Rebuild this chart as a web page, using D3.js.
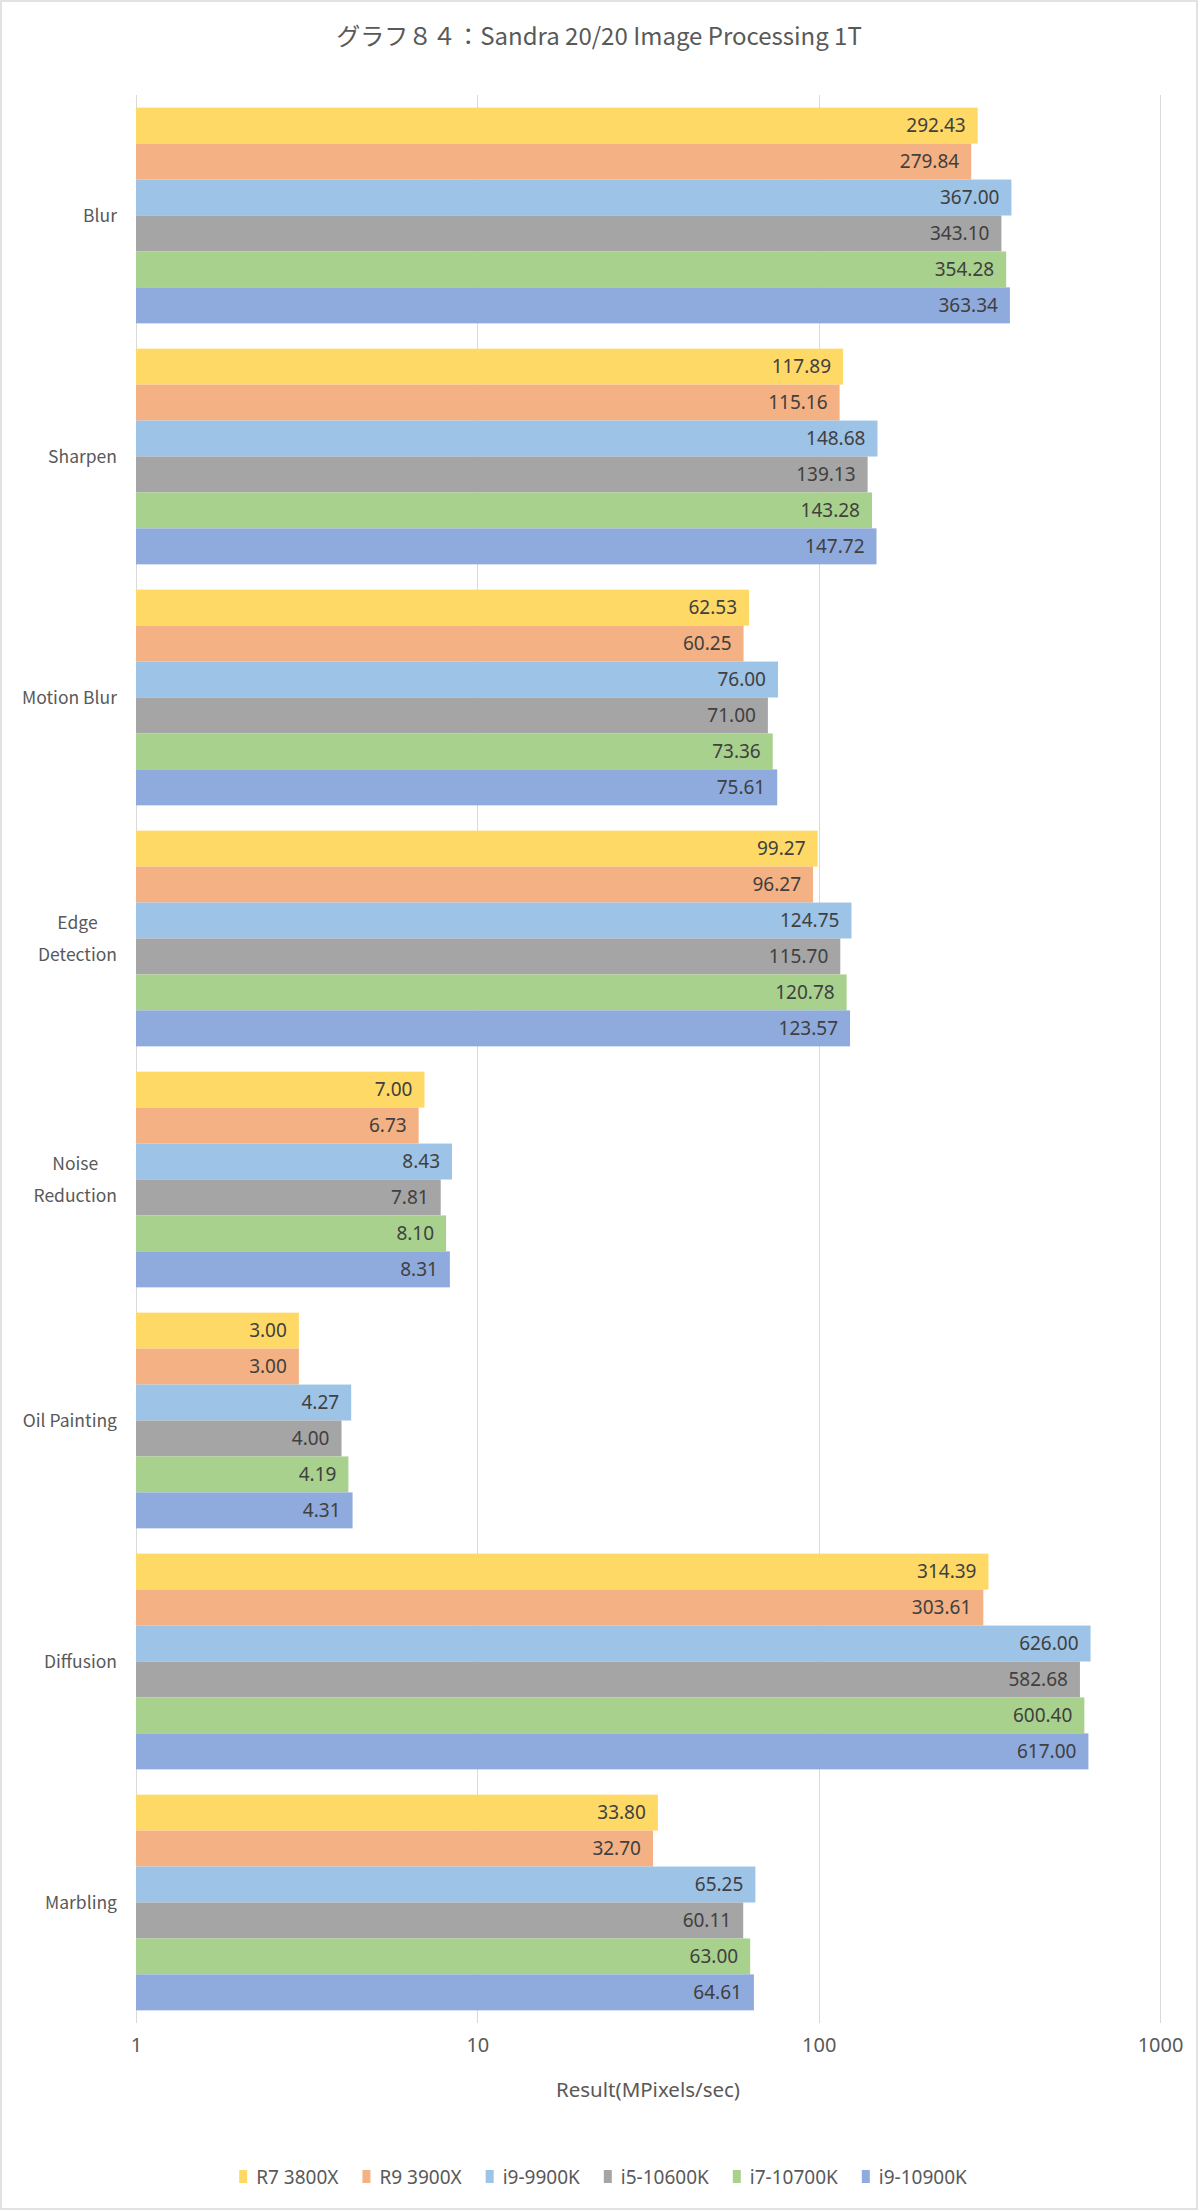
<!DOCTYPE html>
<html><head><meta charset="utf-8">
<script src="https://cdn.jsdelivr.net/npm/d3@7"></script>
<style>body{margin:0;background:#fff}svg{display:block}</style>
</head><body>
<svg id="c" width="1200" height="2211"></svg>
<script>
const title = "グラフ８４：Sandra 20/20 Image Processing 1T";
const categories = ["Blur","Sharpen","Motion Blur","Edge\nDetection","Noise\nReduction","Oil Painting","Diffusion","Marbling"];
const seriesNames = ["R7 3800X","R9 3900X","i9-9900K","i5-10600K","i7-10700K","i9-10900K"];
const r7_3800x  = [292.43,117.89,62.53,99.27,7.00,3.00,314.39,33.80];
const r9_3900x  = [279.84,115.16,60.25,96.27,6.73,3.00,303.61,32.70];
const i9_9900k  = [367.00,148.68,76.00,124.75,8.43,4.27,626.00,65.25];
const i5_10600k = [343.10,139.13,71.00,115.70,7.81,4.00,582.68,60.11];
const i7_10700k = [354.28,143.28,73.36,120.78,8.10,4.19,600.40,63.00];
const i9_10900k = [363.34,147.72,75.61,123.57,8.31,4.31,617.00,64.61];
const tickValues = [1,10,100,1000];
const axisTitle = "Result(MPixels/sec)";
const colors = ["#FFD966","#F4B183","#9DC3E6","#A5A5A5","#A9D18E","#8FAADC"];

const seriesData = [r7_3800x,r9_3900x,i9_9900k,i5_10600k,i7_10700k,i9_10900k];
const FONT = "'Noto Sans CJK JP','Noto Sans',sans-serif";
const FONT2 = "'Noto Sans','Noto Sans CJK JP',sans-serif";
const svg = d3.select("#c");

svg.append("rect").attr("x",1).attr("y",1).attr("width",1196).attr("height",2208)
  .attr("fill","#fff").attr("stroke","#D9D9D9").attr("stroke-width",1.5);

svg.append("text").attr("x",599).attr("y",45).attr("text-anchor","middle")
  .attr("font-family",FONT).attr("font-size",24).attr("fill","#595959").text(title);

const x = d3.scaleLog().domain([1,1000]).range([136,1160]);
const y = d3.scaleBand().domain(categories).range([95,2023]).paddingInner(0.105).paddingOuter(0.0525);
const ys = d3.scaleBand().domain(seriesNames).range([0,y.bandwidth()]);

// grid
const grid = svg.append("g");
grid.selectAll("line").data(tickValues).join("line")
  .attr("x1",d=>Math.round(x(d))+0.5).attr("x2",d=>Math.round(x(d))+0.5)
  .attr("y1",95).attr("y2",2023).attr("stroke","#D9D9D9").attr("stroke-width",1);

// x axis labels
const xAxis = d3.axisBottom(x).tickValues(tickValues).tickFormat(d3.format("d")).tickSize(0).tickPadding(0);
const gx = svg.append("g").attr("transform","translate(0,2038)").call(xAxis);
gx.select(".domain").remove();
gx.selectAll("text").attr("font-family",FONT2).attr("font-size",20).attr("fill","#595959").attr("dy","0.71em").attr("y",0);

svg.append("text").attr("x",648).attr("y",2097).attr("text-anchor","middle")
  .attr("font-family",FONT2).attr("font-size",20.5).attr("fill","#595959").text(axisTitle);

// bars
const groups = svg.append("g").selectAll("g").data(categories).join("g")
  .attr("transform",c=>`translate(0,${y(c)})`);
groups.each(function(c,ci){
  const g = d3.select(this);
  const vals = seriesNames.map((s,si)=>({s,si,v:seriesData[si][ci]}));
  g.selectAll("rect").data(vals).join("rect")
    .attr("x",x(1)).attr("y",d=>ys(d.s)).attr("height",ys.bandwidth())
    .attr("width",d=>x(d.v)-x(1)).attr("fill",d=>colors[d.si]);
  g.selectAll("text").data(vals).join("text")
    .attr("x",d=>x(d.v)-12).attr("y",d=>ys(d.s)+ys.bandwidth()/2)
    .attr("dy","0.36em").attr("text-anchor","end")
    .attr("font-family",FONT2).attr("font-size",19).attr("fill","#404040")
    .text(d=>d.v.toFixed(2));
});

// category labels
const catG = svg.append("g");
categories.forEach(c=>{
  const lines = c.split("\n");
  const cy = y(c)+y.bandwidth()/2;
  const t = catG.append("text").attr("font-family",FONT).attr("font-size",17.5).attr("fill","#595959");
  const lh = 32;
  lines.forEach((l,i)=>{
    t.append("tspan").attr("y",cy+(i-(lines.length-1)/2)*lh).attr("dy","0.36em").text(l);
  });
  let maxW = 0;
  t.selectAll("tspan").each(function(){maxW=Math.max(maxW,this.getComputedTextLength());});
  if(lines.length>1){
    t.attr("text-anchor","middle").selectAll("tspan").attr("x",117-maxW/2);
  } else {
    t.attr("text-anchor","end").selectAll("tspan").attr("x",117);
  }
});

// legend
const leg = svg.append("g");
let lx = 0;
seriesNames.forEach((s,i)=>{
  const it = leg.append("g").attr("transform",`translate(${lx},0)`);
  it.append("rect").attr("x",0).attr("y",-7).attr("width",8).attr("height",13).attr("fill",colors[i]);
  const t = it.append("text").attr("x",17).attr("y",0).attr("dy","0.36em")
    .attr("font-family",FONT2).attr("font-size",19).attr("fill","#595959").text(s);
  lx += 17 + t.node().getComputedTextLength() + 24;
});
const totalW = lx - 24;
leg.attr("transform",`translate(${603-totalW/2},2177)`);
</script>
</body></html>
